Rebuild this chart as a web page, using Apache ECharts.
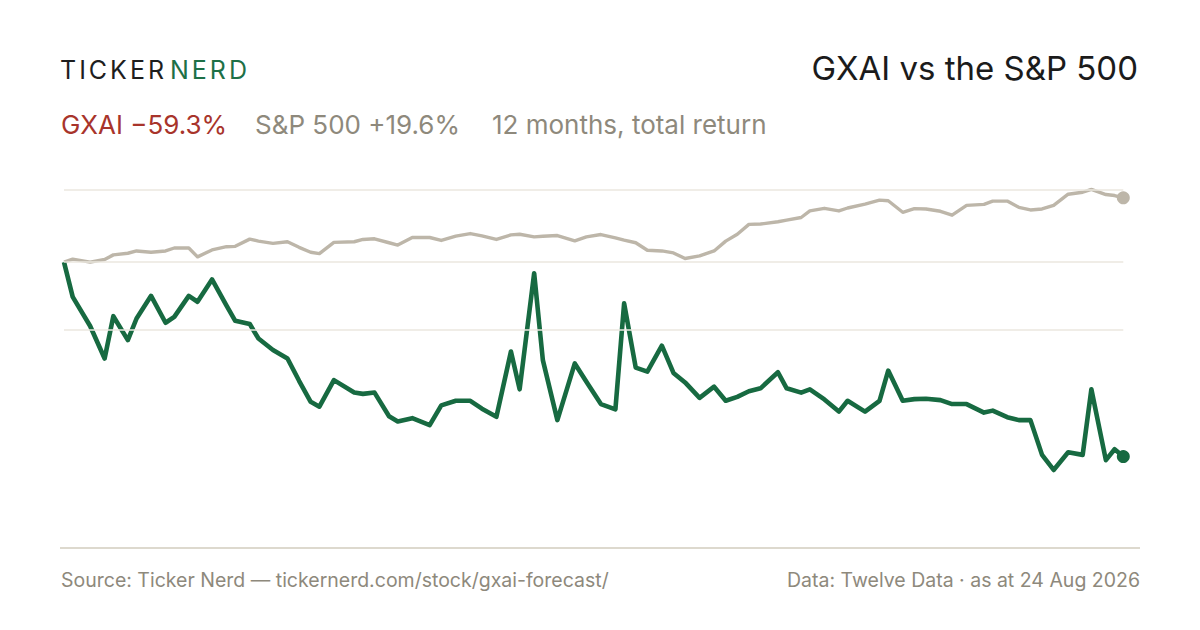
<!DOCTYPE html>
<html><head><meta charset="utf-8">
<script src="https://cdn.jsdelivr.net/npm/echarts@6/dist/echarts.min.js"></script>
<style>html,body{margin:0;padding:0;background:#fff}#c{width:1200px;height:630px}</style>
</head><body><div id="c"></div>
<script>
// Day offsets within the 12-month window (0 = 24 Aug 2025, 365 = 24 Aug 2026)
const days = [0,3,9,14,17,22,25,30,35,38,43,46,51,56,59,64,67,72,77,81,85,88,93,100,103,107,112,115,120,126,130,135,140,144,149,154,157,162,165,170,176,180,185,190,193,197,201,206,210,214,219,224,228,232,236,240,246,249,254,257,262,267,270,276,281,284,289,293,297,302,306,311,317,320,325,329,333,337,341,346,351,354,359,362,365];
// Cumulative total return, %
const gxaiReturn = [0,-10.6,-19.5,-29.4,-16.5,-23.8,-17.2,-10.3,-18.5,-16.7,-10.3,-12.1,-5.3,-13.3,-17.9,-18.9,-23.3,-26.8,-29.4,-36.2,-42.6,-44.1,-36.0,-39.8,-40.2,-39.8,-47.0,-48.6,-47.6,-49.7,-43.7,-42.3,-42.3,-44.7,-47.2,-27.3,-38.8,-3.4,-29.9,-48.2,-30.9,-36.5,-43.3,-44.9,-12.6,-32.2,-33.4,-25.5,-33.8,-36.7,-41.4,-38.0,-42.3,-41.1,-39.4,-38.5,-33.6,-38.5,-39.8,-38.8,-41.9,-45.6,-42.3,-45.6,-42.3,-33.1,-42.3,-41.8,-41.7,-42.1,-43.3,-43.3,-45.9,-45.3,-47.3,-48.2,-48.2,-58.8,-63.4,-58.0,-58.8,-38.8,-60.4,-57.1,-59.3];
const spxReturn = [0,0.9,0,0.8,2.2,2.7,3.4,3.0,3.4,4.3,4.3,1.6,3.7,4.7,4.8,7.0,6.4,5.7,6.2,4.5,3.0,2.6,6.0,6.2,6.9,7.1,5.9,5.2,7.5,7.5,6.6,7.9,8.7,8.0,6.9,8.3,8.5,7.7,7.9,8.1,6.5,7.7,8.4,7.4,6.7,5.9,3.6,3.4,2.8,1.1,1.9,3.4,6.4,8.5,11.5,11.6,12.3,12.8,13.6,15.6,16.4,15.6,16.5,17.7,18.9,18.7,15.2,16.3,16.2,15.5,14.3,17.3,17.6,18.6,18.6,16.7,15.9,16.2,17.3,20.7,21.3,22.2,20.6,20.3,19.6];
const tickerName = 'GXAI';
const benchName = 'S&P 500';
const periodNote = '12 months, total return';
const titleText = 'GXAI vs the S&P 500';
const sourceText = 'Source: Ticker Nerd \u2014 tickernerd.com/stock/gxai-forecast/';
const dataText = 'Data: Twelve Data \u00b7 as at 24 Aug 2026';

const GREEN = '#176a41', SAND = '#bdb6a9', RED = '#a8342b', MUTED = '#8e897c';
const FONT = 'Inter, "Noto Sans", sans-serif';

const pairs = arr => days.map((d, i) => [d, arr[i]]);
const all = gxaiReturn.concat(spxReturn);
const yMax = Math.max(...all), yMin = Math.min(...all);
const yMid = (yMax + yMin) / 2;
const last = days.length - 1;
const fmt = v => (v < 0 ? '\u2212' : '+') + Math.abs(v).toFixed(1) + '%';

const chart = echarts.init(document.getElementById('c'), null, { renderer: 'svg' });
chart.setOption({
  animation: false,
  backgroundColor: '#fff',
  grid: { left: 64, right: 76.7, top: 189.3, bottom: 82 },
  xAxis: { type: 'value', min: 0, max: 365, show: false },
  yAxis: { type: 'value', min: -87.2, max: yMax, show: false },
  series: [
    { type: 'line', data: [[0, 0]], symbol: 'none', lineStyle: { opacity: 0 }, z: 1, silent: true,
      markLine: { silent: true, symbol: 'none', label: { show: false },
        lineStyle: { color: '#ebe7df', width: 1.5, type: 'solid' },
        data: [{ yAxis: yMax }, { yAxis: 0 }, { yAxis: yMid }] } },
    { type: 'line', data: pairs(spxReturn), showSymbol: false, z: 2,
      lineStyle: { color: SAND, width: 3.4, join: 'round' } },
    { type: 'line', data: pairs(gxaiReturn), showSymbol: false, z: 3,
      lineStyle: { color: GREEN, width: 4.6, join: 'round' } },
    { type: 'scatter', z: 4, symbolSize: 13,
      data: [
        { value: [days[last], spxReturn[last]], itemStyle: { color: SAND, opacity: 1 } },
        { value: [days[last], gxaiReturn[last]], itemStyle: { color: GREEN, opacity: 1 } }
      ] }
  ],
  graphic: [
    { type: 'text', left: 60, top: 57, style: { text: 'TICKER', font: '400 25px ' + FONT, fill: '#1e1e1e' } },
    { type: 'text', left: 170, top: 57, style: { text: 'NERD', font: '400 25px ' + FONT, fill: '#1d7047' } },
    { type: 'text', right: 62, top: 51, style: { text: titleText, font: '400 33px ' + FONT, fill: '#1b1b1b' } },
    { type: 'text', left: 61, top: 111, style: { text: tickerName + ' ' + fmt(gxaiReturn[last]), font: '400 26px ' + FONT, fill: RED } },
    { type: 'text', left: 255, top: 111, style: { text: benchName + ' ' + fmt(spxReturn[last]), font: '400 26px ' + FONT, fill: MUTED } },
    { type: 'text', left: 492, top: 111, style: { text: periodNote, font: '400 26px ' + FONT, fill: MUTED } },
    { type: 'rect', shape: { x: 60, y: 547, width: 1080, height: 2 }, style: { fill: '#ddd9ce' } },
    { type: 'text', left: 61, top: 570, style: { text: sourceText, font: '400 19.5px ' + FONT, fill: MUTED } },
    { type: 'text', right: 60, top: 570, style: { text: dataText, font: '400 19.5px ' + FONT, fill: MUTED } }
  ]
});
// Wordmark tracking (letter-spacing) on the logo text
document.querySelectorAll('#c svg text').forEach(t => {
  if (t.textContent === 'TICKER' || t.textContent === 'NERD') t.setAttribute('letter-spacing', '3px');
});
</script></body></html>
